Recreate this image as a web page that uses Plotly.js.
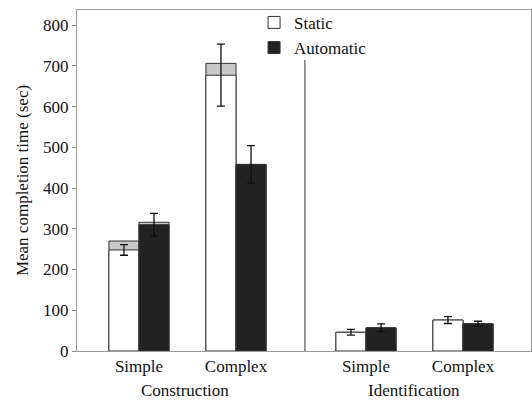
<!DOCTYPE html>
<html>
<head>
<meta charset="utf-8">
<script src="https://cdn.plot.ly/plotly-3.0.1.min.js"></script>
<style>
  html, body { margin: 0; padding: 0; background: #fff; }
  #chart { width: 532px; height: 401px; }
</style>
</head>
<body>
<div id="chart"></div>
<script>
// ---- data ----
const groups = ['Construction', 'Identification'];
const categories = ['Simple', 'Complex'];
const groupOf = [0, 0, 1, 1];
const catOf = [0, 1, 0, 1];
const tickLabels = ['Simple', 'Complex', 'Simple', 'Complex'];

const staticMean  = [248, 677, 46, 76];
const staticErr   = [13, 76, 7, 8.5];
const staticTotal = [270, 706, 46, 76];

const autoMean  = [310, 458, 57, 67];
const autoErr   = [28, 46, 9.5, 6];
const autoTotal = [316, 458, 57, 67];

// ---- layout of slots ----
const groupGap = 2.34;
const xs = groupOf.map((g, i) => 1 + g * groupGap + catOf[i]);
const bw = 0.31;

const serif = '"Liberation Serif"';
const outline = '#333';

const traces = [
  { type: 'bar', x: xs, y: staticTotal, width: bw, offset: -bw, showlegend: false,
    marker: { color: '#c8c8c8', line: { color: outline, width: 1 } }, hoverinfo: 'skip' },
  { type: 'bar', name: 'Static', x: xs, y: staticMean, width: bw, offset: -bw,
    marker: { color: '#ffffff', line: { color: outline, width: 1 } },
    error_y: { type: 'data', array: staticErr, visible: true, color: '#111', thickness: 1.3, width: 4 } },
  { type: 'bar', x: xs, y: autoTotal, width: bw, offset: 0, showlegend: false,
    marker: { color: '#c8c8c8', line: { color: outline, width: 1 } }, hoverinfo: 'skip' },
  { type: 'bar', name: 'Automatic', x: xs, y: autoMean, width: bw, offset: 0,
    marker: { color: '#222222', line: { color: outline, width: 1 } },
    error_y: { type: 'data', array: autoErr, visible: true, color: '#111', thickness: 1.3, width: 4 } }
];

const divX = 1 + 1 + (groupGap - 1) / 2 + 0.04;

const layout = {
  width: 532, height: 401,
  margin: { l: 77, r: 1, t: 10, b: 50 },
  paper_bgcolor: '#fff', plot_bgcolor: '#fff',
  barmode: 'overlay',
  showlegend: true,
  legend: { x: 0.39, y: 1.015, xanchor: 'left', yanchor: 'top', bgcolor: 'rgba(0,0,0,0)',
            font: { family: serif, size: 17, color: '#111' }, tracegroupgap: 0 },
  font: { family: serif, size: 17, color: '#111' },
  xaxis: {
    range: [0.361, 5.041], tickmode: 'array', tickvals: xs, ticktext: tickLabels,
    showgrid: false, zeroline: false, showline: true, mirror: true, linecolor: '#999', linewidth: 1,
    ticks: '', tickfont: { family: serif, size: 17, color: '#111' }
  },
  yaxis: {
    range: [0, 837], tickvals: [0,100,200,300,400,500,600,700,800],
    showgrid: false, zeroline: false, showline: true, mirror: true, linecolor: '#999', linewidth: 1,
    ticks: 'outside', ticklen: 4, tickcolor: '#888', tickfont: { family: serif, size: 17, color: '#111' },
    title: { text: 'Mean completion time (sec)', font: { family: serif, size: 17, color: '#111' }, standoff: 10 }
  },
  shapes: [
    { type: 'line', xref: 'x', yref: 'y', x0: divX, x1: divX, y0: 0, y1: 714,
      line: { color: '#777', width: 1.5 } }
  ],
  annotations: [
    { text: groups[0], xref: 'x', yref: 'paper', x: 1.47, y: 0, yanchor: 'top', yshift: -28,
      showarrow: false, font: { family: serif, size: 17, color: '#111' } },
    { text: groups[1], xref: 'x', yref: 'paper', x: 1 + groupGap + 0.5, y: 0, yanchor: 'top', yshift: -28,
      showarrow: false, font: { family: serif, size: 17, color: '#111' } }
  ]
};

Plotly.newPlot('chart', traces, layout, { staticPlot: true, displayModeBar: false });
</script>
</body>
</html>
